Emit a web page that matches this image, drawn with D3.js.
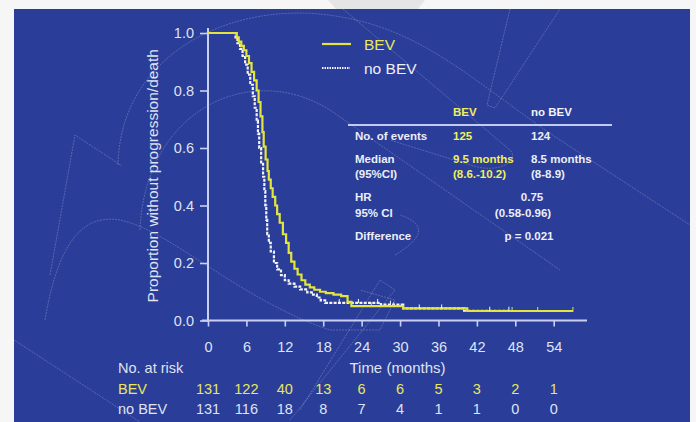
<!DOCTYPE html>
<html><head><meta charset="utf-8">
<script src="https://cdn.jsdelivr.net/npm/d3@7/dist/d3.min.js"></script>
<style>
html,body{margin:0;padding:0;background:#f6f6f6;}
svg{display:block;font-family:"Liberation Sans",Arial,sans-serif;}
</style></head>
<body>
<svg id="c" width="696" height="422"></svg>
<script>
// ---- data ----
const monthTicks = [0, 6, 12, 18, 24, 30, 36, 42, 48, 54];
const yTicks = [0, 0.2, 0.4, 0.6, 0.8, 1.0];
const riskBEV = [131, 122, 40, 13, 6, 6, 5, 3, 2, 1];
const riskNoBEV = [131, 116, 18, 8, 7, 4, 1, 1, 0, 0];
const seriesNames = ["BEV", "no BEV"];

const bevTime = [0, 4.5, 4.8, 5.2, 5.6, 6.0, 6.4, 6.8, 7.2, 7.6, 7.9, 8.2, 8.5, 8.7, 9.0, 9.3, 9.5, 9.8, 10.1, 10.5, 10.8, 11.2, 11.7, 12.2, 12.6, 13.0, 13.5, 14.0, 14.6, 15.2, 15.9, 16.6, 17.5, 18.4, 19.6, 20.8, 21.8, 22.4, 30.5, 40.5, 57.0];
const bevSurv = [1.0, 0.985, 0.97, 0.955, 0.94, 0.92, 0.895, 0.865, 0.835, 0.80, 0.76, 0.71, 0.655, 0.605, 0.56, 0.52, 0.49, 0.46, 0.43, 0.40, 0.37, 0.34, 0.30, 0.27, 0.235, 0.205, 0.18, 0.16, 0.14, 0.125, 0.115, 0.107, 0.10, 0.095, 0.09, 0.085, 0.065, 0.05, 0.042, 0.033, 0.033];

const noBevTime = [0, 4.3, 4.6, 5.0, 5.4, 5.8, 6.2, 6.6, 7.0, 7.3, 7.6, 7.8, 8.0, 8.3, 8.6, 8.8, 8.95, 9.1, 9.25, 9.5, 9.8, 10.3, 10.8, 11.4, 12.0, 12.6, 13.5, 14.4, 15.5, 16.4, 17.0, 17.6, 18.3, 27.0, 30.5, 40.0, 47.0];
const noBevSurv = [1.0, 0.985, 0.965, 0.945, 0.92, 0.89, 0.855, 0.82, 0.78, 0.74, 0.695, 0.65, 0.60, 0.55, 0.50, 0.45, 0.40, 0.35, 0.30, 0.27, 0.24, 0.20, 0.178, 0.158, 0.14, 0.128, 0.118, 0.108, 0.098, 0.09, 0.08, 0.07, 0.061, 0.055, 0.042, 0.034, 0.034];

const bevCensor = [25.5, 29.0, 47.5, 51.5, 57.0];
const noBevCensor = [20.5, 23.5, 26.5, 28.5, 33.0, 36.5, 44.0, 47.0];

// ---- layout ----
const svg = d3.select("#c");
const W = 696, H = 422;
const blue = "#2a3d98";
const axisCol = "#c9d0f2";
const txtCol = "#dfe3f2";
const yellow = "#e4e43e";
const yellowTxt = "#e8e85c";

// background panel
svg.append("rect").attr("x", 0).attr("y", 0).attr("width", W).attr("height", H).attr("fill", "#f6f6f6");
svg.append("path").attr("d", "M328,0 L425,0 L418,9 L336,9 Z").attr("fill", "#e4e6e6");
svg.append("rect").attr("x", 14).attr("y", 9).attr("width", 676).attr("height", H - 9).attr("fill", blue);

// faint watermark strokes
const wm = svg.append("g").attr("fill", "none").attr("stroke", "#ffffff").attr("stroke-opacity", 0.28).attr("stroke-width", 0.8).attr("stroke-dasharray", "2,1");
wm.append("path").attr("d", "M118,165 C120,60 220,5 320,14 C420,24 470,80 560,140 L690,225");
wm.append("path").attr("d", "M140,230 C145,110 250,60 330,110 L560,270");
wm.append("path").attr("d", "M50,275 L75,135 L122,166");
wm.append("path").attr("d", "M45,320 C60,230 90,215 120,220 C170,230 240,300 330,330 L380,330 L395,300 L360,290");
wm.append("path").attr("d", "M343,9 L510,150 C520,160 500,175 470,165 L390,140");
wm.append("path").attr("d", "M510,9 L487,105 L495,108 L560,9");
wm.append("path").attr("d", "M300,410 L380,280 L395,290 L290,420");
wm.append("path").attr("d", "M14,340 L140,422");
wm.append("path").attr("d", "M395,255 C420,240 430,225 400,215");

// scales
const x = d3.scaleLinear().domain([0, 59.2]).range([208, 587]);
const y = d3.scaleLinear().domain([0, 1]).range([320.5, 33]);

// axes
const gAxes = svg.append("g");
gAxes.append("line").attr("x1", x(0)).attr("x2", x(0)).attr("y1", 28).attr("y2", y(0) + 1)
  .attr("stroke", axisCol).attr("stroke-width", 2);
gAxes.append("line").attr("x1", x(0) - 6).attr("x2", x(59.2)).attr("y1", y(0)).attr("y2", y(0))
  .attr("stroke", axisCol).attr("stroke-width", 2);

const yAxis = d3.axisLeft(y).tickValues(yTicks).tickFormat(d3.format(".1f")).tickSize(8).tickPadding(6);
const gy = svg.append("g").attr("transform", `translate(${x(0)},0)`).call(yAxis);
gy.select(".domain").remove();
gy.selectAll(".tick line").attr("stroke", axisCol).attr("stroke-width", 1.6);
gy.selectAll(".tick text").attr("fill", txtCol).attr("font-size", 14.5).attr("font-family", "Liberation Sans, Arial, sans-serif");

const xAxis = d3.axisBottom(x).tickValues(monthTicks).tickSize(6).tickPadding(15);
const gx = svg.append("g").attr("transform", `translate(0,${y(0)})`).call(xAxis);
gx.select(".domain").remove();
gx.selectAll(".tick line").attr("stroke", axisCol).attr("stroke-width", 1.6);
gx.selectAll(".tick text").attr("fill", txtCol).attr("font-size", 14.5).attr("font-family", "Liberation Sans, Arial, sans-serif");

// axis titles
svg.append("text").attr("transform", `translate(158,${(y(0) + y(1)) / 2 - 1}) rotate(-90)`)
  .attr("text-anchor", "middle").attr("fill", txtCol).attr("font-size", 15.5)
  .text("Proportion without progression/death");
svg.append("text").attr("x", 397.5).attr("y", 373).attr("text-anchor", "middle")
  .attr("fill", txtCol).attr("font-size", 15).text("Time (months)");

// curves
const line = d3.line().x(d => x(d[0])).y(d => y(d[1])).curve(d3.curveStepAfter);
const noBevData = noBevTime.map((t, i) => [t, noBevSurv[i]]);
const bevData = bevTime.map((t, i) => [t, bevSurv[i]]);

svg.append("path").datum(noBevData).attr("d", line).attr("fill", "none")
  .attr("stroke", "#f4f4fa").attr("stroke-width", 2.2).attr("stroke-dasharray", "3,1.3");
svg.append("path").datum(bevData).attr("d", line).attr("fill", "none")
  .attr("stroke", yellow).attr("stroke-width", 2.2);

function survAt(times, surv, t) {
  let v = surv[0];
  for (let i = 0; i < times.length; i++) { if (times[i] <= t) v = surv[i]; }
  return v;
}
svg.append("g").selectAll("line").data(noBevCensor).join("line")
  .attr("x1", d => x(d)).attr("x2", d => x(d))
  .attr("y1", d => y(survAt(noBevTime, noBevSurv, d)) - 4).attr("y2", d => y(survAt(noBevTime, noBevSurv, d)))
  .attr("stroke", "#f4f4fa").attr("stroke-width", 1);
svg.append("g").selectAll("line").data(bevCensor).join("line")
  .attr("x1", d => x(d)).attr("x2", d => x(d))
  .attr("y1", d => y(survAt(bevTime, bevSurv, d)) - 4).attr("y2", d => y(survAt(bevTime, bevSurv, d)) + 1)
  .attr("stroke", yellow).attr("stroke-width", 1);

// legend
const leg = svg.append("g");
leg.append("line").attr("x1", 322).attr("x2", 351).attr("y1", 44).attr("y2", 44)
  .attr("stroke", yellow).attr("stroke-width", 2.2);
leg.append("text").attr("x", 364).attr("y", 49.5).attr("fill", yellowTxt).attr("font-size", 15.5).text(seriesNames[0]);
leg.append("line").attr("x1", 322).attr("x2", 350).attr("y1", 68).attr("y2", 68)
  .attr("stroke", "#f4f4fa").attr("stroke-width", 1.8).attr("stroke-dasharray", "1.5,1");
leg.append("text").attr("x", 364).attr("y", 74).attr("fill", "#eef0f8").attr("font-size", 15.5).text(seriesNames[1]);

// statistics table
const tbl = svg.append("g").attr("font-weight", "bold").attr("font-size", 11.5);
const tCol0 = 355, tCol1 = 453, tCol2 = 531;
tbl.append("text").attr("x", tCol1).attr("y", 116).attr("fill", "#f0f05a").text("BEV");
tbl.append("text").attr("x", tCol2).attr("y", 116).attr("fill", "#f2f2f8").text("no BEV");
tbl.append("line").attr("x1", 348).attr("x2", 612).attr("y1", 125).attr("y2", 125)
  .attr("stroke", "#c4cbf0").attr("stroke-width", 2);
const rows = [
  {t: "No. of events", y: 140, a: "125", b: "124"},
  {t: "Median", y: 163, a: "9.5 months", b: "8.5 months"},
  {t: "(95%CI)", y: 178, a: "(8.6.-10.2)", b: "(8-8.9)"},
];
rows.forEach(r => {
  tbl.append("text").attr("x", tCol0).attr("y", r.y).attr("fill", "#eceef8").text(r.t);
  tbl.append("text").attr("x", tCol1).attr("y", r.y).attr("fill", "#f0f05a").text(r.a);
  tbl.append("text").attr("x", tCol2).attr("y", r.y).attr("fill", "#eceef8").text(r.b);
});
tbl.append("text").attr("x", tCol0).attr("y", 201).attr("fill", "#eceef8").text("HR");
tbl.append("text").attr("x", tCol0).attr("y", 217).attr("fill", "#eceef8").text("95% CI");
tbl.append("text").attr("x", tCol0).attr("y", 240).attr("fill", "#eceef8").text("Difference");
tbl.append("text").attr("x", 532).attr("y", 201).attr("text-anchor", "middle").attr("fill", "#eceef8").text("0.75");
tbl.append("text").attr("x", 523).attr("y", 217).attr("text-anchor", "middle").attr("fill", "#eceef8").text("(0.58-0.96)");
tbl.append("text").attr("x", 529).attr("y", 240).attr("text-anchor", "middle").attr("fill", "#eceef8").text("p = 0.021");

// number at risk
const risk = svg.append("g").attr("font-size", 14.5);
risk.append("text").attr("x", 118).attr("y", 373).attr("fill", txtCol).text("No. at risk");
risk.append("text").attr("x", 118).attr("y", 394).attr("fill", yellowTxt).text(seriesNames[0]);
risk.append("text").attr("x", 118).attr("y", 414).attr("fill", txtCol).text(seriesNames[1]);
risk.selectAll(".rb").data(riskBEV).join("text").attr("class", "rb")
  .attr("x", (d, i) => x(monthTicks[i])).attr("y", 394).attr("text-anchor", "middle")
  .attr("fill", yellowTxt).text(d => d);
risk.selectAll(".rn").data(riskNoBEV).join("text").attr("class", "rn")
  .attr("x", (d, i) => x(monthTicks[i])).attr("y", 414).attr("text-anchor", "middle")
  .attr("fill", txtCol).text(d => d);
</script>
</body></html>
